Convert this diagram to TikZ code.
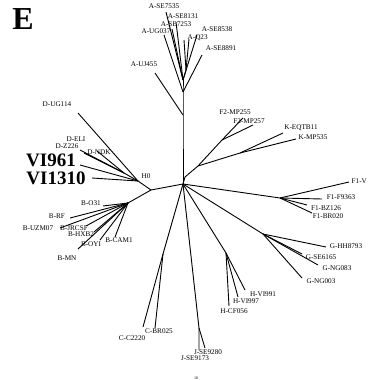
\documentclass[tikz,border=0pt]{standalone}
\usepackage{fontspec}
\setmainfont{Liberation Serif}
\begin{document}
\begin{tikzpicture}[x=1pt,y=-1pt,
  br/.style={line width=0.9pt},
  lab/.style={font=\fontsize{7.2}{8}\selectfont, inner sep=0.5pt},
  big/.style={font=\fontsize{19}{20}\bfseries\selectfont, inner sep=0pt}]
\useasboundingbox (0,0) rectangle (372,380);
\node[font=\fontsize{32}{32}\bfseries\selectfont, inner sep=0pt] (E) at (23,19) {E};
% internal nodes
\coordinate (C) at (183,184);
\coordinate (TA1) at (183,115);
\coordinate (TA2) at (183,92);
\coordinate (a1) at (183,80);
\coordinate (a2) at (186,70);
\coordinate (Jn) at (151,190);
\coordinate (Dh) at (138,181);
\coordinate (Dd) at (124,173);
\coordinate (Bh) at (128,203);
\coordinate (Cn) at (163,254);
\coordinate (Jh) at (199,328);
\coordinate (Hn) at (226,253);
\coordinate (Gn) at (263,234);
\coordinate (Fh) at (280,198);
\coordinate (N1) at (185,177);
\coordinate (N2) at (198,166);
\coordinate (F2n) at (222,140);
\coordinate (Kn) at (240,153);
% tips
\coordinate (tUJ) at (155,73);
\coordinate (t7535) at (166,12);
\coordinate (t8131) at (176,22);
\coordinate (t7253) at (172,29);
\coordinate (tUG037) at (164,35);
\coordinate (tQ23) at (184,40);
\coordinate (tQ23b) at (189,39);
\coordinate (t8538) at (197,35);
\coordinate (t8891) at (202,55);
\coordinate (tUG114) at (78,113);
\coordinate (tELI) at (80,150);
\coordinate (tZ226) at (84,153);
\coordinate (tNDK) at (97,151);
\coordinate (tVI961) at (80,165);
\coordinate (tVI1310) at (92,178);
\coordinate (tO31) at (103,206);
\coordinate (tRF) at (70,218);
\coordinate (tUZ) at (60,228);
\coordinate (tJR) at (86,226);
\coordinate (tHX) at (94,232);
\coordinate (tOY) at (100,240);
\coordinate (tMN) at (78,249);
\coordinate (tCAM) at (115,237);
\coordinate (tC22) at (143,327);
\coordinate (tBR025) at (155,328);
\coordinate (tJ73) at (199,350);
\coordinate (tJ80) at (205,348);
\coordinate (tH991) at (245,290);
\coordinate (tH997) at (238,297);
\coordinate (tCF) at (229,306);
\coordinate (tGHH) at (326,247);
\coordinate (tG65) at (302,254);
\coordinate (tG83) at (318,265);
\coordinate (tG03) at (302,278);
\coordinate (tFV) at (349,182);
\coordinate (tF93) at (322,199);
\coordinate (tFBZ) at (307,205);
\coordinate (tFBR) at (312,213);
\coordinate (tF255) at (243,118);
\coordinate (tF257) at (253,125);
\coordinate (tKE) at (283,133);
\coordinate (tKM) at (296,139);
% branches
\draw[br] (C) -- (TA1) -- (TA2) -- (a1);
\draw[br] (TA1) -- (tUJ);
\draw[br] (a1) -- (t7535);
\draw[br] (a1) -- (t8131);
\draw[br] (a1) -- (t7253);
\draw[br] (TA2) -- (tUG037);
\draw[br] (a1) -- (a2) -- (tQ23);
\draw[br] (a2) -- (tQ23b);
\draw[br] (a1) -- (t8538);
\draw[br] (TA2) -- (t8891);
\draw[br] (C) -- (Jn) -- (Dh);
\draw[br] (Dh) -- (tUG114);
\draw[br] (Dh) -- (Dd) -- (tELI);
\draw[br] (Dd) -- (tZ226);
\draw[br] (Dd) -- (tNDK);
\draw[br] (Dh) -- (tVI961);
\draw[br] (Dh) -- (tVI1310);
\draw[br] (Jn) -- (Bh);
\foreach \t in {tO31,tRF,tUZ,tJR,tHX,tOY,tMN,tCAM} \draw[br] (Bh) -- (\t);
\draw[br] (C) -- (Cn) -- (tC22);
\draw[br] (Cn) -- (tBR025);
\draw[br] (C) -- (Jh) -- (tJ73);
\draw[br] (Jh) -- (tJ80);
\draw[br] (C) -- (Hn);
\foreach \t in {tH991,tH997,tCF} \draw[br] (Hn) -- (\t);
\draw[br] (C) -- (Gn);
\foreach \t in {tGHH,tG65,tG83,tG03} \draw[br] (Gn) -- (\t);
\draw[br] (C) -- (Fh);
\foreach \t in {tFV,tF93,tFBZ,tFBR} \draw[br] (Fh) -- (\t);
\draw[br] (C) -- (N1) -- (N2) -- (F2n) -- (tF255);
\draw[br] (F2n) -- (tF257);
\draw[br] (N2) -- (Kn) -- (tKE);
\draw[br] (Kn) -- (tKM);
% labels
\node[lab] (l7535) at (164,6) {A-SE7535};
\node[lab] (l8131) at (183,16) {A-SE8131};
\node[lab] (l7253) at (176,24) {A-SE7253};
\node[lab] (lUG037) at (156,31) {A-UG037};
\node[lab, anchor=west] (lQ23) at (187,38) {A-Q23};
\node[lab] (l8538) at (217,29) {A-SE8538};
\node[lab] (l8891) at (221,48) {A-SE8891};
\node[lab] (lUJ) at (144,64) {A-UJ455};
\node[lab] (lUG114) at (57,104) {D-UG114};
\node[lab] (lELI) at (76,139) {D-ELI};
\node[lab] (lZ226) at (67,146) {D-Z226};
\node[lab] (lNDK) at (99,152) {D-NDK};
\node[big] (lVI961) at (51,160) {VI961};
\node[big] (lVI1310) at (56,178) {VI1310};
\node[lab] (lH0) at (146,176) {H0};
\node[lab] (lO31) at (91,203) {B-O31};
\node[lab] (lRF) at (57,216) {B-RF};
\node[lab] (lUZ) at (38,228) {B-UZM07};
\node[lab] (lJR) at (74,228) {B-JRCSF};
\node[lab] (lHX) at (81,234) {B-HXB2};
\node[lab] (lOY) at (91,244) {B-OYI};
\node[lab] (lCAM) at (119,240) {B-CAM1};
\node[lab] (lMN) at (67,258) {B-MN};
\node[lab] (lBR025) at (159,331) {C-BR025};
\node[lab] (lC22) at (132,338) {C-C2220};
\node[lab] (lJ80) at (208,352) {J-SE9280};
\node[lab] (lJ73) at (195,358) {J-SE9173};
\node[lab] (lH991) at (263,294) {H-VI991};
\node[lab] (lH997) at (246,301) {H-VI997};
\node[lab] (lCF) at (234,311) {H-CF056};
\node[lab] (lGHH) at (346,246) {G-HH8793};
\node[lab] (lG65) at (321,257) {G-SE6165};
\node[lab] (lG83) at (337,268) {G-NG083};
\node[lab] (lG03) at (321,281) {G-NG003};
\node[lab, anchor=west] (lFV) at (351,181) {F1-V};
\node[lab] (lF93) at (341,197) {F1-F9363};
\node[lab] (lFBZ) at (326,208) {F1-BZ126};
\node[lab] (lFBR) at (328,216) {F1-BR020};
\node[lab] (lF255) at (235,112) {F2-MP255};
\node[lab] (lF257) at (249,121) {F2-MP257};
\node[lab] (lKE) at (301,128) {K-EQTB11};
\node[lab] (lKM) at (313,137) {K-MP535};
\node[lab, font=\fontsize{4}{4}\selectfont] (l10) at (196,378) {10};
\end{tikzpicture}
\end{document}
